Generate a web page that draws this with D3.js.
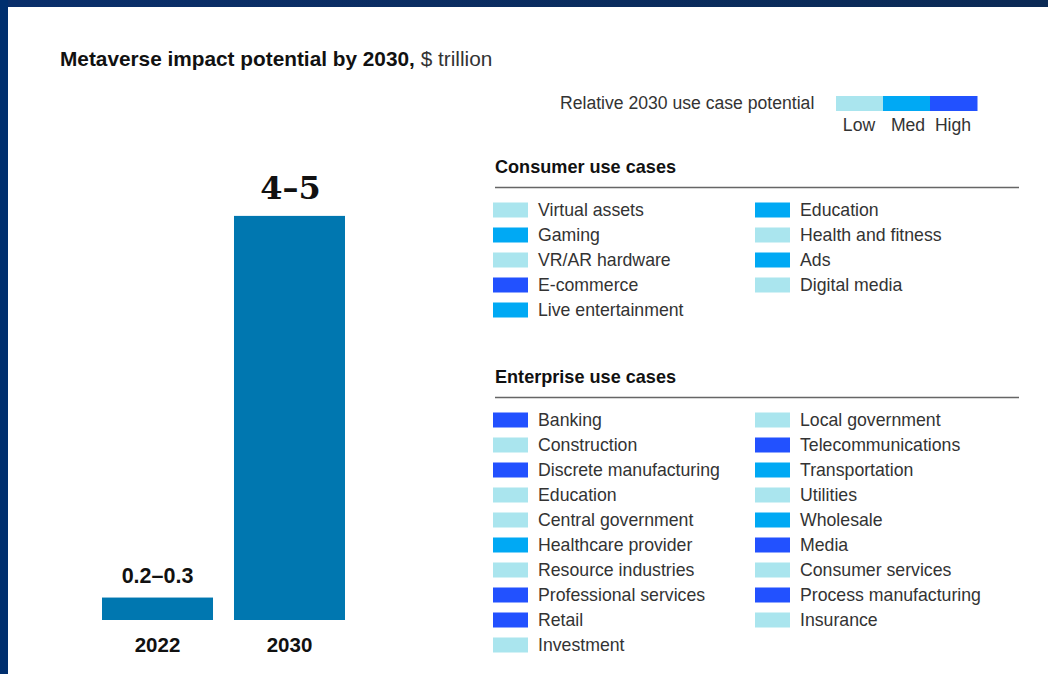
<!DOCTYPE html>
<html><head><meta charset="utf-8">
<script src="https://cdn.jsdelivr.net/npm/d3@7"></script>
<style>
html,body{margin:0;padding:0;background:#fff;}
svg{display:block;}
</style></head>
<body>
<svg id="chart" width="1048" height="674"></svg>
<script>
// ---- data ----
const years = ["2022", "2030"];
const impactValues = [0.25, 4.5];          // $ trillion (midpoints)
const impactLabels = ["0.2\u20130.3", "4\u20135"];
const potentialLevels = ["Low", "Med", "High"];
const consumerCases = ["Virtual assets","Gaming","VR/AR hardware","E-commerce","Live entertainment","Education","Health and fitness","Ads","Digital media"];
const consumerLevels = ["Low","Med","Low","High","Med","Med","Low","Med","Low"];
const enterpriseCases = ["Banking","Construction","Discrete manufacturing","Education","Central government","Healthcare provider","Resource industries","Professional services","Retail","Investment",
  "Local government","Telecommunications","Transportation","Utilities","Wholesale","Media","Consumer services","Process manufacturing","Insurance"];
const enterpriseLevels = ["High","Low","High","Low","Low","Med","Low","High","High","Low",
  "Low","High","Med","Low","Med","High","Low","High","Low"];

const svg = d3.select("#chart");
const W = 1048, H = 674;
const sans = "'Liberation Sans', Arial, sans-serif";
const txt = "#333333";

// frame
const grad = svg.append("defs").append("linearGradient").attr("id","topg").attr("x1","0").attr("x2","1");
grad.append("stop").attr("offset","0").attr("stop-color","#0a2f6b");
grad.append("stop").attr("offset","1").attr("stop-color","#0b2a55");
svg.append("rect").attr("x",0).attr("y",0).attr("width",W).attr("height",7).attr("fill","url(#topg)");
svg.append("rect").attr("x",0).attr("y",0).attr("width",8).attr("height",H).attr("fill","#002f6e");

// title
const title = svg.append("text").attr("x",60).attr("y",66).attr("font-family",sans).attr("font-size",20.8).attr("fill","#111");
title.append("tspan").attr("font-weight","bold").text("Metaverse impact potential by 2030,");
title.append("tspan").attr("fill","#333").text(" $ trillion");

// bars
const x = d3.scaleBand().domain(years).range([102, 345]).paddingInner(0.159).paddingOuter(0);
const y = d3.scaleLinear().domain([0, 5]).range([620, 171]);
const g = svg.append("g");
g.selectAll("rect.bar").data(years).join("rect").attr("class","bar")
  .attr("x", d => x(d)).attr("width", x.bandwidth())
  .attr("y", (d,i) => y(impactValues[i])).attr("height", (d,i) => y(0) - y(impactValues[i]))
  .attr("fill","#0077b0");
g.selectAll("text.year").data(years).join("text").attr("class","year")
  .attr("x", d => x(d) + x.bandwidth()/2).attr("y", 652)
  .attr("text-anchor","middle").attr("font-family",sans).attr("font-weight","bold").attr("font-size",20.5).attr("fill","#111")
  .text(d => d);
g.selectAll("text.val").data(years).join("text").attr("class","val")
  .attr("x", d => x(d) + x.bandwidth()/2 + (d === "2030" ? 1 : 0))
  .attr("y", (d,i) => y(impactValues[i]) - (i===1 ? 17 : 15))
  .attr("text-anchor","middle")
  .attr("font-family", (d,i) => i===1 ? "'DejaVu Serif', 'Liberation Serif', serif" : sans)
  .attr("font-weight","bold")
  .attr("font-size", (d,i) => i===1 ? 32 : 21.5)
  .attr("fill","#111")
  .text((d,i) => impactLabels[i]);

// colour scale
const color = d3.scaleOrdinal().domain(potentialLevels).range(["#aae5ee","#00a9f4","#2251ff"]);

// potential legend
svg.append("text").attr("x",560).attr("y",109).attr("font-family",sans).attr("font-size",17.6).attr("fill",txt)
  .text("Relative 2030 use case potential");
const lx = d3.scaleBand().domain(potentialLevels).range([836, 977]);
svg.selectAll("rect.leg").data(potentialLevels).join("rect").attr("class","leg")
  .attr("x", d => lx(d)).attr("y",96).attr("width", lx.bandwidth()+0.5).attr("height",15).attr("fill", d => color(d));
const legLabelX = {Low: 859, Med: 908, High: 953};
svg.selectAll("text.leg").data(potentialLevels).join("text").attr("class","leg")
  .attr("x", d => legLabelX[d]).attr("y",131).attr("text-anchor","middle")
  .attr("font-family",sans).attr("font-size",17.6).attr("fill",txt).text(d => d);

// sections
function section(titleText, headerY, cases, levels, perCol) {
  svg.append("text").attr("x",495).attr("y",headerY).attr("font-family",sans).attr("font-weight","bold")
    .attr("font-size",18.1).attr("fill","#111").text(titleText);
  svg.append("line").attr("x1",495).attr("x2",1019).attr("y1",headerY+14.5).attr("y2",headerY+14.5)
    .attr("stroke","#666").attr("stroke-width",1.3);
  const rowY = d3.scaleLinear().domain([0,1]).range([headerY+37, headerY+37+25]);
  const colX = [493, 755];
  const items = cases.map((c,i) => ({name:c, level:levels[i], col: i < perCol ? 0 : 1, row: i < perCol ? i : i - perCol}));
  const gg = svg.append("g");
  gg.selectAll("rect").data(items).join("rect")
    .attr("x", d => colX[d.col]).attr("y", d => rowY(d.row) - 7.5).attr("width",35).attr("height",15)
    .attr("fill", d => color(d.level));
  gg.selectAll("text").data(items).join("text")
    .attr("x", d => colX[d.col] + 45).attr("y", d => rowY(d.row) + 6)
    .attr("font-family",sans).attr("font-size",17.7).attr("fill",txt).text(d => d.name);
}
section("Consumer use cases", 173, consumerCases, consumerLevels, 5);
section("Enterprise use cases", 383, enterpriseCases, enterpriseLevels, 10);
</script>
</body></html>
